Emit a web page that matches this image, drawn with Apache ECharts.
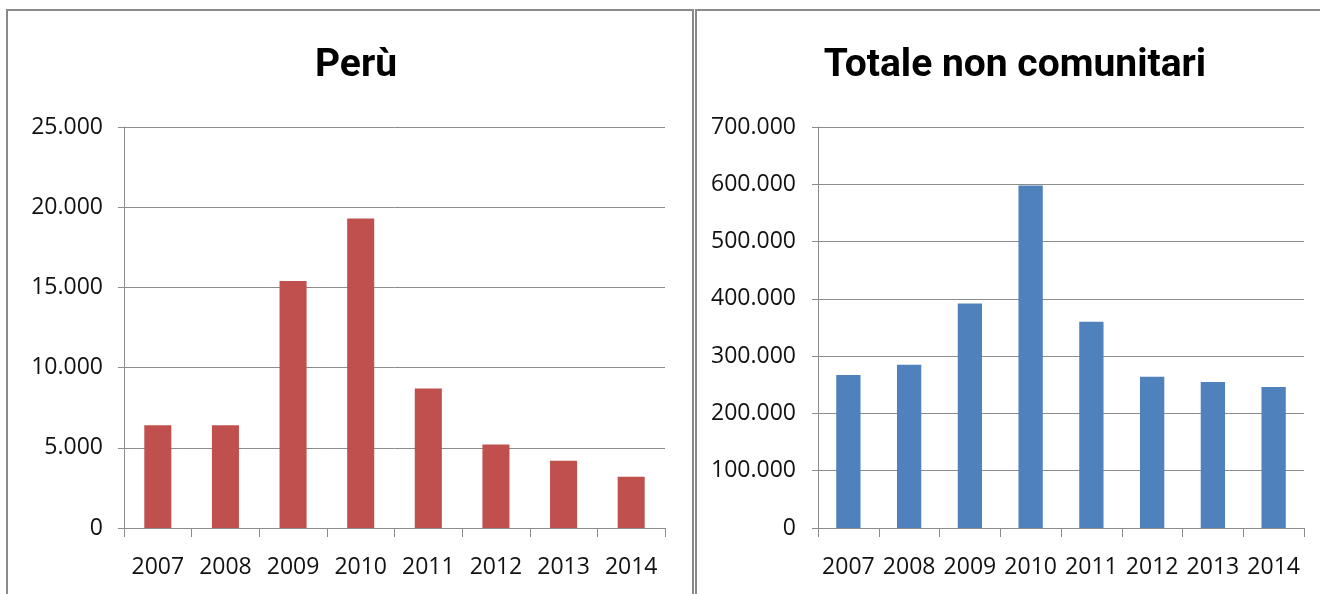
<!DOCTYPE html>
<html>
<head>
<meta charset="utf-8">
<script src="https://cdn.jsdelivr.net/npm/echarts@6/dist/echarts.min.js"></script>
<style>
  html, body { margin: 0; padding: 0; background: #fff; }
  #chart { width: 1320px; height: 594px; }
</style>
</head>
<body>
<div id="chart"></div>
<script>
// years shown on both charts
var years = ['2007', '2008', '2009', '2010', '2011', '2012', '2013', '2014'];

// Perù
var peru = [6400, 6400, 15400, 19300, 8700, 5200, 4200, 3200];

// Totale non comunitari
var totale = [267000, 285000, 392000, 598000, 360000, 264000, 255000, 246000];

var FONT = '"Open Sans", "Liberation Sans", sans-serif';
var TITLE_FONT = 'Roboto, "Open Sans", sans-serif';
var gridColor = '#8c8c8c';

// 25000 -> "25.000"
function itNum(v) {
    return String(v).replace(/\B(?=(\d{3})+(?!\d))/g, '.');
}

function xAxis(gridIndex) {
    return {
        type: 'category',
        gridIndex: gridIndex,
        data: years,
        axisLine: { lineStyle: { color: gridColor, width: 1 } },
        axisTick: { show: true, length: 9, lineStyle: { color: gridColor } },
        axisLabel: { color: '#111', fontFamily: FONT, fontSize: 23, margin: 28, interval: 0 }
    };
}

function yAxis(gridIndex, max, interval, margin) {
    return {
        type: 'value',
        gridIndex: gridIndex,
        min: 0,
        max: max,
        interval: interval,
        axisLine: { show: true, lineStyle: { color: gridColor, width: 1 } },
        axisTick: { show: true, length: 6, lineStyle: { color: gridColor } },
        splitLine: { lineStyle: { color: gridColor, width: 1 } },
        axisLabel: {
            color: '#111', fontFamily: FONT, fontSize: 23, margin: margin,
            formatter: itNum
        }
    };
}

var chart = echarts.init(document.getElementById('chart'));

chart.setOption({
    animation: false,
    title: [
        {
            text: 'Perù', left: 351, top: 42, textAlign: 'center',
            textStyle: { fontFamily: TITLE_FONT, fontSize: 39, fontWeight: 'bold', color: '#000' }
        },
        {
            text: 'Totale non comunitari', left: 1010, top: 42, textAlign: 'center',
            textStyle: { fontFamily: TITLE_FONT, fontSize: 39, fontWeight: 'bold', color: '#000' }
        }
    ],
    graphic: [
        {
            type: 'rect', silent: true,
            shape: { x: 7, y: 10, width: 686, height: 600 },
            style: { fill: 'none', stroke: '#8a8a8a', lineWidth: 2 }
        },
        {
            type: 'rect', silent: true,
            shape: { x: 696, y: 10, width: 640, height: 600 },
            style: { fill: 'none', stroke: '#8a8a8a', lineWidth: 2 }
        }
    ],
    grid: [
        { left: 124, right: 655, top: 127, bottom: 66 },
        { left: 818, right: 16, top: 127, bottom: 66 }
    ],
    xAxis: [xAxis(0), xAxis(1)],
    yAxis: [yAxis(0, 25000, 5000, 21), yAxis(1, 700000, 100000, 22)],
    series: [
        {
            type: 'bar', xAxisIndex: 0, yAxisIndex: 0,
            data: peru, barWidth: '40%',
            itemStyle: { color: '#C0504D' }
        },
        {
            type: 'bar', xAxisIndex: 1, yAxisIndex: 1,
            data: totale, barWidth: '40%',
            itemStyle: { color: '#4F81BD' }
        }
    ]
});

window.addEventListener('resize', function () {
    chart.resize();
});
</script>
</body>
</html>
